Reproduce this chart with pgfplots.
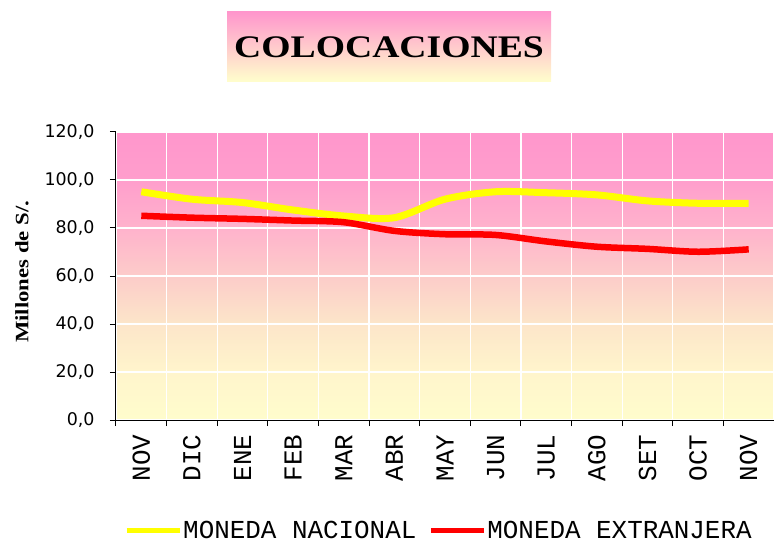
\documentclass[border=0pt]{standalone}
\usepackage{pgfplots}
\pgfplotsset{compat=1.18}
\usepackage{fontspec}
\setmainfont{Liberation Serif}
\newfontfamily\wideserif[FakeStretch=1.2]{Liberation Serif}
\newfontfamily\lmono{Liberation Mono}
\newfontfamily\dvs{DejaVu Sans}
\definecolor{pinkA}{RGB}{255,150,204}
\definecolor{yelA}{RGB}{255,255,204}
\definecolor{lineY}{RGB}{255,255,0}
\definecolor{lineR}{RGB}{255,0,0}
\pgfdeclareverticalshading{plotshade}{100bp}{%
  rgb(0bp)=(1,0.99,0.80);
  rgb(25bp)=(1,0.99,0.80);
  rgb(33.3bp)=(1,0.96,0.80);
  rgb(41.7bp)=(0.99,0.90,0.79);
  rgb(50bp)=(0.99,0.80,0.79);
  rgb(58.3bp)=(1,0.70,0.80);
  rgb(66.7bp)=(1,0.62,0.80);
  rgb(75bp)=(1,0.59,0.80);
  rgb(100bp)=(1,0.59,0.80)}
\begin{document}
\begin{tikzpicture}
\path[use as bounding box] (-116bp,-125bp) rectangle (658bp,420bp);
\shade[top color=pinkA, bottom color=yelA] (111bp,338bp) rectangle (435bp,408bp);
\node[font=\wideserif\bfseries\fontsize{31.5}{33}\selectfont] at (273bp,373bp) {COLOCACIONES};
\begin{axis}[
  scale only axis, width=658bp, height=288bp,
  xmin=-0.5, xmax=12.5, ymin=0, ymax=120,
  axis x line*=bottom, axis y line*=left,
  axis background/.style={shade, shading=plotshade},
  ytick={0,20,...,120},
  xtick={0,...,12},
  xticklabels={NOV,DIC,ENE,FEB,MAR,ABR,MAY,JUN,JUL,AGO,SET,OCT,NOV},
  minor xtick={-0.5,0.5,...,12.5},
  tick align=outside, major tick length=6bp, minor tick length=6bp,
  major x tick style={draw=none},
  ymajorgrids, xminorgrids,
  major grid style={white, line width=1.2bp},
  minor grid style={white, line width=1.2bp},
  axis line style={black, line width=1bp},
  tick style={black, line width=1bp},
  /pgf/number format/assume math mode=true,
  yticklabel style={font=\dvs\fontsize{17.5}{20}\selectfont,
    /pgf/number format/.cd, fixed, fixed zerofill, precision=1, use comma},
  yticklabel shift=12bp,
  xticklabel shift=5bp,
  xticklabel style={font=\lmono\fontsize{26}{28}\selectfont, rotate=90, anchor=east},
  ylabel={Millones de S/.},
  ylabel style={at={(axis description cs:-0.143,0.514)}, anchor=center,
    font=\wideserif\bfseries\fontsize{19}{21}\selectfont},
  legend columns=2,
  legend style={at={(axis description cs:0.0122,-0.385)}, anchor=west,
    draw=none, fill=none, inner sep=0pt,
    font=\lmono\fontsize{26}{28}\selectfont,
    nodes={inner sep=1bp},
    /tikz/every even column/.append style={column sep=11bp}},
  legend image code/.code={\draw[#1, line width=5bp] (0bp,0bp) -- (53bp,0bp);},
]
\addplot[lineY, line width=7bp, smooth, tension=0.5] coordinates {
  (0,95.1) (1,92.0) (2,90.6) (3,87.5) (4,85.0) (5,84.3) (6,92.0)
  (7,95.1) (8,94.7) (9,93.8) (10,91.3) (11,90.3) (12,90.3)};
\addlegendentry{MONEDA NACIONAL}
\addplot[lineR, line width=6.5bp, smooth, tension=0.5] coordinates {
  (0,85.1) (1,84.3) (2,83.8) (3,83.1) (4,82.4) (5,78.8) (6,77.4)
  (7,77.1) (8,74.4) (9,72.2) (10,71.3) (11,70.1) (12,71.1)};
\addlegendentry{MONEDA EXTRANJERA}
\end{axis}
\end{tikzpicture}
\end{document}
